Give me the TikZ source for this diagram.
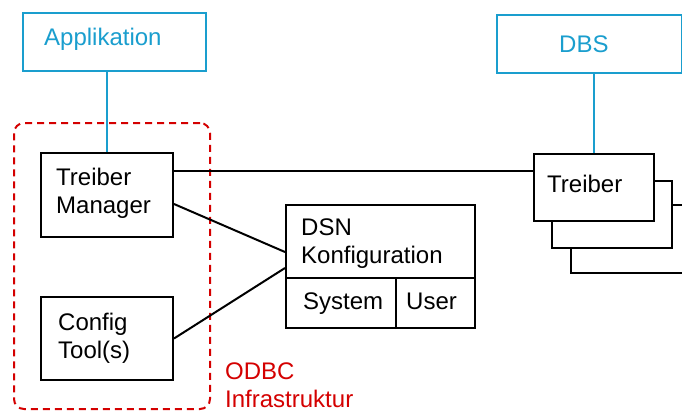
\documentclass[tikz,border=0pt]{standalone}
\usepackage{fontspec}
\setmainfont{Liberation Sans}
\usetikzlibrary{calc,positioning}
\definecolor{appblue}{RGB}{26,158,206}
\definecolor{odbcred}{RGB}{212,0,0}
\tikzset{
  blackbox/.style={draw=black,line width=2pt,fill=white,anchor=north west,
    inner sep=0pt},
  bluebox/.style={draw=appblue,line width=2pt,fill=white,anchor=north west,
    inner sep=0pt},
  infraframe/.style={draw=odbcred,line width=2pt,dashed,
    dash pattern=on 7pt off 5pt,rounded corners=10pt,anchor=north west,
    inner sep=0pt},
  % multi-line labels sit on the baseline of their last line
  lbl/.style={anchor=base west,inner sep=0pt,align=left,
    font=\fontsize{24}{28}\selectfont},
  link/.style={draw=black,line width=2pt},
  bluelink/.style={draw=appblue,line width=2pt}
}

\begin{document}
\begin{tikzpicture}[x=1pt,y=-1pt]
  \path[use as bounding box,clip] (0,0) rectangle (682,410);
  % ODBC infrastructure
  \node[infraframe,minimum width=196,minimum height=286] (odbc) at (13,122) {};
  \node[lbl,text=odbcred] (odbctxt) at ($(odbc.south east)+(14,-3)$)
    {ODBC\\Infrastruktur};
  % application and database system
  \node[bluebox,minimum width=183,minimum height=58] (app) at (22,12) {};
  \node[lbl,text=appblue] (apptxt) at ($(app.north west)+(22,33)$) {Applikation};
  \node[bluebox,minimum width=185,minimum height=58] (dbs) at (496,14) {};
  \node[lbl,text=appblue] (dbstxt) at ($(dbs.north west)+(63,38)$) {DBS};
  % driver manager and config tools
  \node[blackbox,minimum width=132,minimum height=84] (mgr) at (40,152) {};
  \node[lbl] (mgrtxt) at ($(mgr.north west)+(16,61)$) {Treiber\\Manager};
  \node[blackbox,minimum width=132,minimum height=83] (cfg) at (40,296) {};
  \node[lbl] (cfgtxt) at ($(cfg.north west)+(18,62)$) {Config\\Tool(s)};
  % DSN configuration
  \node[blackbox,minimum width=189,minimum height=123] (dsn) at (285,204) {};
  \coordinate (dsnsplit) at ($(dsn.north west)+(0,74)$);
  \coordinate (dsnmid) at ($(dsn.south west)+(111,0)$);
  \draw[link] (dsnsplit) -- (dsnsplit -| dsn.east);
  \draw[link] (dsnmid) -- (dsnmid |- dsnsplit);
  \node[lbl] (dsntxt) at ($(dsn.north west)+(16,59)$) {DSN\\Konfiguration};
  \node[lbl] (systxt) at ($(dsnsplit)+(18,31)$) {System};
  \node[lbl] (usrtxt) at ($(dsnsplit -| dsnmid)+(10,31)$) {User};
  % stacked drivers
  \node[blackbox,minimum width=130,minimum height=68] (drv3) at (570,204) {};
  \node[blackbox,minimum width=120,minimum height=67] (drv2) at (551,180) {};
  \node[blackbox,minimum width=120,minimum height=67] (drv1) at (533,153) {};
  \node[lbl] (drvtxt) at ($(drv1.north west)+(14,39)$) {Treiber};
  % connections
  \draw[bluelink] (mgr.north) -- (mgr.north |- app.south);
  \draw[bluelink] (drv1.north) -- (drv1.north |- dbs.south);
  \coordinate (mgrout) at ($(mgr.north east)+(0,19)$);
  \draw[link] (mgrout) -- (mgrout -| drv1.west);
  \draw[link] ($(mgr.north east)+(0,52)$) -- ($(dsn.north west)+(0,48)$);
  \draw[link] (cfg.east) -- ($(dsn.north west)+(0,64)$);
\end{tikzpicture}
\end{document}
